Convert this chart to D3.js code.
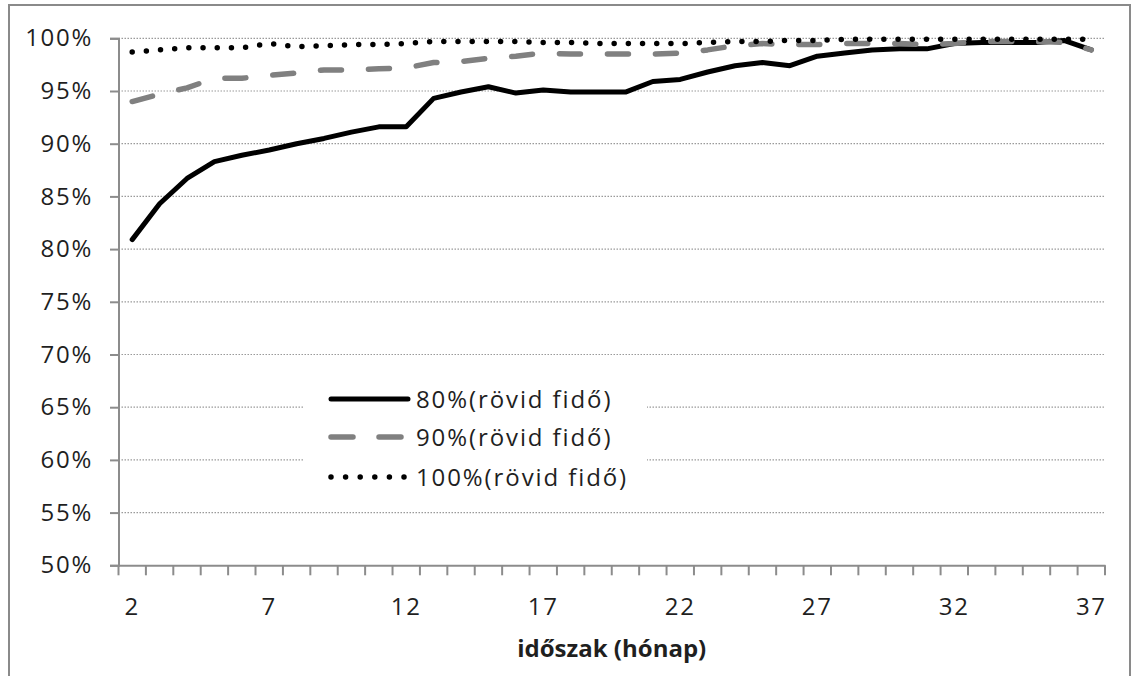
<!DOCTYPE html>
<html>
<head>
<meta charset="utf-8">
<script src="https://cdn.jsdelivr.net/npm/d3@7"></script>
<style>
  html, body { margin: 0; padding: 0; background: #fff; }
  svg { display: block; }
  text { font-family: "Open Sans", "Noto Sans", sans-serif; fill: #1f1f1f; }
</style>
</head>
<body>
<svg id="chart" width="1135" height="676"></svg>
<script>
// Időszak (hónap) – kategóriák
const months = [2, 3, 4, 5, 6, 7, 8, 9, 10, 11, 12, 13, 14, 15, 16, 17, 18, 19, 20,
                21, 22, 23, 24, 25, 26, 27, 28, 29, 30, 31, 32, 33, 34, 35, 36, 37];

// Arány (%) soronként
const s80 = [80.9, 84.3, 86.7, 88.3, 88.9, 89.4, 90.0, 90.5, 91.1, 91.6, 91.6, 94.3,
             94.9, 95.4, 94.8, 95.1, 94.9, 94.9, 94.9, 95.9, 96.1, 96.8, 97.4, 97.7,
             97.4, 98.3, 98.6, 98.9, 99.0, 99.0, 99.5, 99.6, 99.6, 99.6, 99.8, 98.9];
const s90 = [94.0, 94.7, 95.3, 96.2, 96.2, 96.5, 96.7, 97.0, 97.0, 97.1, 97.2, 97.7,
             97.8, 98.1, 98.3, 98.6, 98.5, 98.5, 98.5, 98.5, 98.6, 98.9, 99.3, 99.5,
             99.4, 99.4, 99.5, 99.5, 99.5, 99.4, 99.5, 99.7, 99.7, 99.7, 99.6, 98.9];
const s100 = [98.7, 98.9, 99.1, 99.1, 99.1, 99.5, 99.2, 99.3, 99.4, 99.4, 99.5, 99.7,
              99.7, 99.7, 99.7, 99.6, 99.6, 99.5, 99.5, 99.5, 99.5, 99.6, 99.7, 99.7,
              99.8, 99.8, 99.9, 99.9, 99.9, 99.9, 99.9, 99.9, 99.9, 99.9, 99.9, 99.9];

const seriesNames = ["80%(rövid fidő)", "90%(rövid fidő)", "100%(rövid fidő)"];
const yTicks = [50, 55, 60, 65, 70, 75, 80, 85, 90, 95, 100];
const xLabels = [2, 7, 12, 17, 22, 27, 32, 37];
const xTitle = "időszak (hónap)";

const svg = d3.select("#chart");

// chart frame
svg.append("rect")
  .attr("x", 9).attr("y", 5).attr("width", 1121).attr("height", 700)
  .attr("fill", "#fff").attr("stroke", "#8a8a8a").attr("stroke-width", 2);

const plot = { left: 118.5, right: 1105, top: 38.3, bottom: 565.3 };

const x = d3.scaleBand().domain(months).range([plot.left, plot.right]).padding(0);
const xc = d => x(d) + x.bandwidth() / 2;
const y = d3.scaleLinear().domain([50, 100]).range([plot.bottom, plot.top]);

// dotted gridlines
svg.append("g").selectAll("line")
  .data(yTicks.filter(t => t > 50))
  .join("line")
  .attr("x1", plot.left).attr("x2", plot.right)
  .attr("y1", d => y(d)).attr("y2", d => y(d))
  .attr("stroke", "#9a9a9a").attr("stroke-width", 1.2)
  .attr("stroke-dasharray", "1.5,1.5");

// y axis
const yAxis = svg.append("g")
  .attr("transform", `translate(${plot.left},0)`)
  .call(d3.axisLeft(y).tickValues(yTicks).tickSize(8.5).tickPadding(17)
    .tickFormat(d => d + "%"));
yAxis.select(".domain").attr("stroke", "#8c8c8c").attr("stroke-width", 2);
yAxis.selectAll(".tick line").attr("stroke", "#8c8c8c").attr("stroke-width", 2);
yAxis.selectAll(".tick text")
  .attr("font-size", 24).attr("letter-spacing", 1.7).attr("dy", "0.32em")
  .style("font-family", "'Open Sans', sans-serif").attr("fill", "#1f1f1f");

// x axis: labels every fifth month, tick marks at every category boundary
const xAxis = svg.append("g")
  .attr("transform", `translate(0,${plot.bottom})`)
  .call(d3.axisBottom(x).tickValues(xLabels).tickSize(0).tickPadding(33));
xAxis.select(".domain").attr("stroke", "#8c8c8c").attr("stroke-width", 2);
xAxis.selectAll(".tick text")
  .attr("font-size", 24).attr("letter-spacing", 1.7)
  .style("font-family", "'Open Sans', sans-serif").attr("fill", "#1f1f1f");

const bounds = months.map(m => x(m)).concat([x(months[months.length - 1]) + x.bandwidth()]);
svg.append("g").selectAll("line")
  .data(bounds)
  .join("line")
  .attr("x1", d => d).attr("x2", d => d)
  .attr("y1", plot.bottom).attr("y2", plot.bottom + 10)
  .attr("stroke", "#8c8c8c").attr("stroke-width", 2);

// axis title
svg.append("text")
  .attr("x", (plot.left + plot.right) / 2).attr("y", 657)
  .attr("text-anchor", "middle")
  .attr("font-size", 24).attr("font-weight", "bold")
  .text(xTitle);

// series lines
const styles = [
  { data: s80, stroke: "#000000", width: 5, dash: null, legendDash: null, legendEnd: 408 },
  { data: s90, stroke: "#808080", width: 5.5, dash: "21,27", legendDash: "22,26", legendEnd: 402 },
  { data: s100, stroke: "#000000", width: 5.5, dash: "0,14.2", legendDash: "0,14.6", legendEnd: 408 }
];

const line = d3.line().x((d, i) => xc(months[i])).y(d => y(d));

styles.forEach(s => {
  svg.append("path")
    .datum(s.data)
    .attr("d", line)
    .attr("fill", "none")
    .attr("stroke", s.stroke)
    .attr("stroke-width", s.width)
    .attr("stroke-linejoin", "round")
    .attr("stroke-linecap", "round")
    .attr("stroke-dasharray", s.dash);
});

// legend
const legend = svg.append("g");
legend.append("rect")
  .attr("x", 303).attr("y", 372).attr("width", 344).attr("height", 124)
  .attr("fill", "#fff");
const legendRows = [399, 437, 477];
styles.forEach((s, i) => {
  legend.append("line")
    .attr("x1", 331).attr("x2", s.legendEnd)
    .attr("y1", legendRows[i]).attr("y2", legendRows[i])
    .attr("stroke", s.stroke)
    .attr("stroke-width", s.width)
    .attr("stroke-linecap", "round")
    .attr("stroke-dasharray", s.legendDash);
  legend.append("text")
    .attr("x", 416).attr("y", legendRows[i] + 8.5)
    .attr("font-size", 24).attr("letter-spacing", 1.9)
    .text(seriesNames[i]);
});
</script>
</body>
</html>
